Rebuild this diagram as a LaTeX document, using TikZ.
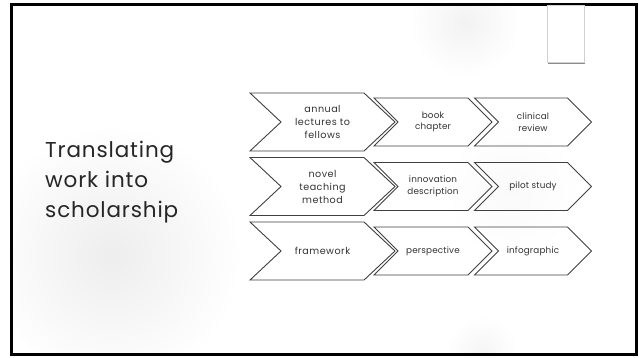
\documentclass[tikz,border=0pt]{standalone}
\usepackage{fontspec}
\setmainfont{Poppins}
\usetikzlibrary{calc}
\newcommand{\mychev}[8]{%
  \node[#2, minimum width=#5pt, minimum height=#6pt] (#1) at (#3,#4) {#8};
  \draw[chevline] (#1.north west) -- ([xshift=-#7pt]#1.north east) -- (#1.east)
    -- ([xshift=-#7pt]#1.south east) -- (#1.south west) -- ([xshift=#7pt]#1.west) -- cycle;
}
\begin{document}
\begin{tikzpicture}[x=1pt,y=-1pt,
  chevtext/.style={shape=rectangle, inner sep=0pt, outer sep=0pt, align=center, text=black!80},
  bigtext/.style={chevtext, font=\addfontfeature{LetterSpace=5}\fontsize{9.6}{13}\selectfont},
  smalltext/.style={chevtext, font=\addfontfeature{LetterSpace=2}\fontsize{8.8}{11.5}\selectfont},
  chevline/.style={draw=black!75, line width=0.9pt, line join=miter}]
\fill[white] (0,0) rectangle (639,358);
\useasboundingbox (0,0) rectangle (639,358);
% soft background blobs
\begin{scope}
  \clip (12,5) rectangle (636,354);
  \shade[inner color=black!7, outer color=white] (112,255) circle (130);
  \shade[inner color=black!5, outer color=white] (465,22) circle (55);
  \shade[inner color=black!4, outer color=white] (482,352) circle (36);
  \shade[inner color=black!2, outer color=white] (512,190) circle (70);
\end{scope}
% slide border
\draw[line width=3pt, black] (11.5,4.5) rectangle (636.5,354.5);
% small tab at top right
\fill[black!45] (547.5,5) rectangle (584.5,64);
\draw[black!18, fill=white, line width=0.6pt] (547,5) rectangle (584,62.5);
% title
\node[anchor=north west, inner sep=0pt, align=left, text=black!85,
      font=\addfontfeature{LetterSpace=4}\fontsize{21.5}{30}\selectfont] (title) at (45,141)
  {Translating\\work into\\scholarship};
% chevrons
\mychev{a1}{bigtext}{322.5}{122}{145}{58}{31}{annual\\lectures to\\fellows}
\mychev{a2}{smalltext}{433}{122}{118}{48}{24}{book\\chapter}
\mychev{a3}{smalltext}{533}{122}{117}{48}{24}{clinical\\review}
\mychev{b1}{bigtext}{322.5}{186.5}{145}{58}{31}{novel\\teaching\\method}
\mychev{b2}{smalltext}{433}{186.5}{118}{48}{24}{innovation\\description}
\mychev{b3}{smalltext}{533}{186.5}{117}{48}{24}{pilot study}
\mychev{c1}{bigtext}{322.5}{251}{145}{58}{31}{framework}
\mychev{c2}{smalltext}{433}{251}{118}{48}{24}{perspective}
\mychev{c3}{smalltext}{533}{251}{117}{48}{24}{infographic}
\end{tikzpicture}
\end{document}
